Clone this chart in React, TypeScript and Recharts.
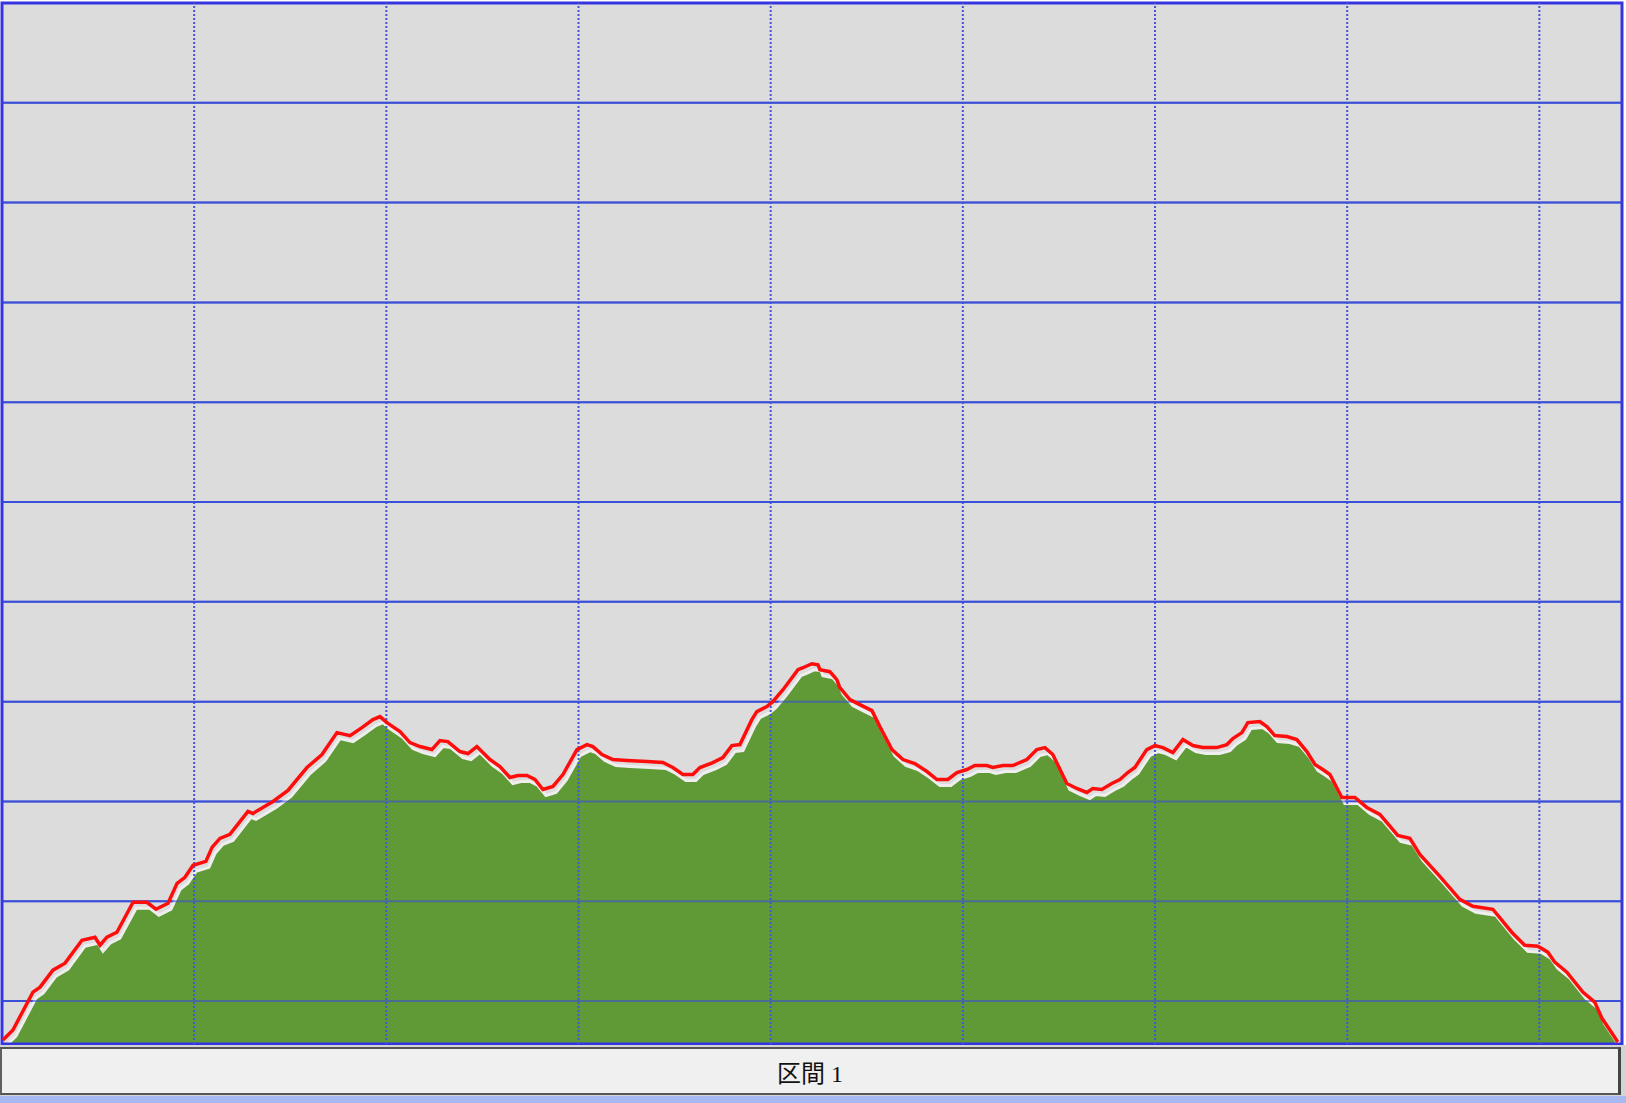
import React from "react";
import {
  ComposedChart,
  Line,
  Area,
  XAxis,
  YAxis,
  CartesianGrid,
  ReferenceLine,
  ReferenceArea,
} from "recharts";

// distance along the route (km)
const distKm = [
  0.005, 0.057, 0.161, 0.198, 0.265, 0.328, 0.416, 0.484, 0.51, 0.546, 0.598, 0.682, 0.754, 0.801, 0.864,
  0.911, 0.952, 0.994, 1.061, 1.093, 1.134, 1.186, 1.28, 1.306, 1.41, 1.488, 1.587, 1.665, 1.743, 1.811,
  1.873, 1.93, 1.967, 2.003, 2.071, 2.123, 2.175, 2.237, 2.279, 2.32, 2.383, 2.425, 2.471, 2.539, 2.591,
  2.643, 2.685, 2.732, 2.773, 2.815, 2.867, 2.919, 2.992, 3.044, 3.075, 3.122, 3.179, 3.252, 3.356, 3.439,
  3.491, 3.543, 3.595, 3.632, 3.699, 3.751, 3.798, 3.84, 3.902, 3.928, 3.98, 4.011, 4.064, 4.142, 4.168,
  4.214, 4.246, 4.256, 4.308, 4.344, 4.36, 4.412, 4.464, 4.527, 4.568, 4.631, 4.688, 4.75, 4.813, 4.865,
  4.922, 4.969, 5.021, 5.062, 5.125, 5.156, 5.208, 5.26, 5.333, 5.385, 5.427, 5.468, 5.541, 5.593, 5.645,
  5.676, 5.723, 5.775, 5.817, 5.858, 5.895, 5.957, 5.999, 6.041, 6.093, 6.145, 6.197, 6.249, 6.321, 6.374,
  6.405, 6.452, 6.483, 6.545, 6.582, 6.623, 6.686, 6.738, 6.79, 6.832, 6.873, 6.91, 6.972, 7.04, 7.102,
  7.17, 7.263, 7.326, 7.378, 7.482, 7.586, 7.654, 7.758, 7.856, 7.924, 7.992, 8.044, 8.08, 8.143, 8.226,
  8.288, 8.325, 8.377, 8.408,
];

// elevation (m)
const elevM = [
  61, 71, 109, 114, 131, 138, 161, 164, 156, 164, 169, 199, 199, 192, 198,
  218, 224, 236, 240, 254, 263, 267, 290, 288, 300, 311, 334, 347, 369, 366,
  374, 382, 385, 379, 370, 359, 355, 352, 361, 360, 350, 348, 355, 342, 335,
  324, 326, 326, 322, 312, 315, 327, 352, 357, 355, 347, 342, 341, 340, 339,
  334, 327, 327, 334, 339, 344, 356, 357, 382, 390, 395, 400, 412, 432, 434,
  438, 437, 432, 430, 422, 414, 402, 397, 391, 375, 352, 342, 338, 330, 322,
  322, 329, 332, 336, 336, 334, 336, 336, 342, 352, 354, 347, 318, 313, 309,
  313, 312, 318, 322, 329, 334, 352, 356, 354, 349, 362, 356, 354, 354, 357,
  363, 369, 379, 380, 375, 366, 365, 362, 350, 337, 332, 327, 304, 304, 294,
  287, 266, 263, 247, 225, 202, 195, 192, 169, 156, 155, 149, 139, 129, 109,
  99, 83, 68, 59,
];

const xTicks = [1, 2, 3, 4, 5, 6, 7, 8];
const yTicks = [100, 200, 300, 400, 500, 600, 700, 800, 900, 1000];
const sectionLabel = "区間 1";

const data = distKm.map((d, i) => ({ d, elev: elevM[i] }));

export default function App() {
  return (
    <div
      style={{
        position: "absolute",
        left: 0,
        top: 0,
        width: 1626,
        height: 1103,
        background: "#ffffff",
        overflow: "hidden",
      }}
    >
      <ComposedChart
        width={1626}
        height={1045}
        data={data}
        margin={{ top: 3, right: 4, bottom: 1, left: 2 }}
      >
        <XAxis xAxisId={0} dataKey="d" type="number" domain={[0, 8.43]} ticks={xTicks} allowDataOverflow hide />
        <YAxis yAxisId={0} type="number" domain={[57, 1100]} ticks={yTicks} allowDataOverflow hide />
        <XAxis xAxisId="g" dataKey="d" type="number" domain={[-0.0156, 8.4144]} allowDataOverflow hide />
        <YAxis yAxisId="g" type="number" domain={[63, 1106]} allowDataOverflow hide />
        <CartesianGrid
          xAxisId={0}
          yAxisId={0}
          vertical={false}
          stroke="#3a4fe0"
          strokeWidth={2}
          fill="#dcdcdc"
          fillOpacity={1}
        />
        {xTicks.map((t) => (
          <ReferenceLine
            key={"v" + t}
            xAxisId={0}
            yAxisId={0}
            x={t}
            stroke="#4256dc"
            strokeWidth={2}
            strokeDasharray="2 2"
          />
        ))}
        <Area
          xAxisId="g"
          yAxisId="g"
          dataKey="elev"
          type="linear"
          fill="#5f9a37"
          fillOpacity={1}
          stroke="#eeeeee"
          strokeWidth={3}
          isAnimationActive={false}
          dot={false}
          activeDot={false}
        />
        {yTicks.map((t) => (
          <ReferenceLine
            key={"h" + t}
            xAxisId={0}
            yAxisId={0}
            y={t}
            stroke="#3a4fd0"
            strokeOpacity={0.6}
            strokeWidth={2}
          />
        ))}
        <Line
          xAxisId={0}
          yAxisId={0}
          dataKey="elev"
          type="linear"
          stroke="#ff0d0d"
          strokeWidth={3.5}
          dot={false}
          activeDot={false}
          isAnimationActive={false}
        />
        <ReferenceArea
          xAxisId={0}
          yAxisId={0}
          x1={0}
          x2={8.43}
          y1={57}
          y2={1100}
          fill="none"
          fillOpacity={0}
          stroke="#3434e0"
          strokeWidth={3}
          ifOverflow="visible"
        />
      </ComposedChart>
      <div
        style={{
          position: "absolute",
          left: 0,
          top: 1045,
          width: 1626,
          height: 58,
          background: "#d4d4d4",
        }}
      />
      <div
        style={{
          position: "absolute",
          left: 0,
          top: 1047,
          width: 1621,
          height: 48,
          boxSizing: "border-box",
          borderTop: "2px solid #555555",
          borderBottom: "2px solid #555555",
          borderLeft: "2px solid #606060",
          borderRight: "3px solid #444444",
          background: "#f0f0f0",
          display: "flex",
          alignItems: "center",
          justifyContent: "center",
          fontFamily: '"Liberation Serif", "Noto Sans CJK JP", serif',
          fontSize: 24,
          color: "#111111",
        }}
      >
        {sectionLabel}
      </div>
      <div
        style={{
          position: "absolute",
          left: 0,
          top: 1096,
          width: 1626,
          height: 7,
          background: "#a8b8f0",
        }}
      />
    </div>
  );
}
